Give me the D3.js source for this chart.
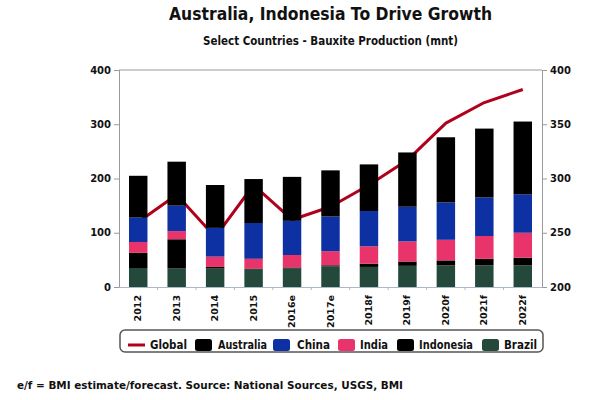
<!DOCTYPE html>
<html><head><meta charset="utf-8">
<script src="https://cdn.jsdelivr.net/npm/d3@7/dist/d3.min.js"></script>
<style>
body{margin:0;background:#fff;}
text{font-family:"DejaVu Sans",sans-serif;font-weight:bold;fill:#111;}
</style></head><body>
<svg id="c" width="600" height="400"></svg>
<script>
const years = ["2012","2013","2014","2015","2016e","2017e","2018f","2019f","2020f","2021f","2022f"];
const brazil    = [35,34,34,32,34,38,37,39,40,40,40];
const indonesia = [28,54,3,2,2,2,6,8,9,12,14];
const india     = [20,15,19,18,23,26,32,37,38,42,46];
const china     = [45,47,53,66,63,64,65,64,69,71,71];
const australia = [77,81,79,81,81,85,86,100,120,127,134];
const globalProd = [260,285,246,294,262,274,294,317,351,370,382];
const leftTicks = [0,100,200,300,400];
const rightTicks = [200,250,300,350,400];

const seriesNames = ["Brazil","Indonesia","India","China","Australia"];
const seriesData = {Brazil:brazil, Indonesia:indonesia, India:india, China:china, Australia:australia};
const colors = {Brazil:"#24493b", Indonesia:"#000000", India:"#e8336b", China:"#0d31a3", Australia:"#000000", Global:"#b0001c"};

const svg = d3.select("#c");
const L=119, R=542, T=70, B=287;

const x = d3.scaleBand().domain(years).range([L,R]).paddingInner(0.52).paddingOuter(0.26);
const y = d3.scaleLinear().domain([0,400]).range([B,T]);
const y2 = d3.scaleLinear().domain([200,400]).range([B,T]);

// title
svg.append("text").attr("x",169).attr("y",20).attr("font-size",17)
  .attr("textLength",323).attr("lengthAdjust","spacingAndGlyphs")
  .text("Australia, Indonesia To Drive Growth");
svg.append("text").attr("x",203).attr("y",45).attr("font-size",11.5)
  .attr("textLength",255).attr("lengthAdjust","spacingAndGlyphs")
  .text("Select Countries - Bauxite Production (mnt)");

// frame top
svg.append("line").attr("x1",L).attr("x2",R).attr("y1",T).attr("y2",T)
  .attr("stroke","#9a9a9a").attr("stroke-width",1);

// global line (behind bars)
const line = d3.line().x((d,i)=>x(years[i])+x.bandwidth()/2).y(d=>y2(d));
svg.append("path").datum(globalProd).attr("d",line)
  .attr("fill","none").attr("stroke",colors.Global).attr("stroke-width",3).attr("stroke-linejoin","round");

// stacked bars
const rows = years.map((yr,i)=>{const o={year:yr}; seriesNames.forEach(s=>o[s]=seriesData[s][i]); return o;});
const stack = d3.stack().keys(seriesNames)(rows);
svg.append("g").selectAll("g").data(stack).join("g")
  .attr("fill",d=>colors[d.key])
  .selectAll("rect").data(d=>d).join("rect")
  .attr("x",d=>x(d.data.year)).attr("width",x.bandwidth())
  .attr("y",d=>y(d[1])).attr("height",d=>y(d[0])-y(d[1]));

// left axis
const ga = svg.append("g").attr("transform",`translate(${L},0)`)
  .call(d3.axisLeft(y).tickValues(leftTicks).tickSize(5).tickPadding(3));
ga.select(".domain").attr("stroke","#9a9a9a");
ga.selectAll(".tick line").attr("stroke","#9a9a9a");
ga.selectAll("text").attr("font-size",10).attr("font-family","DejaVu Sans").attr("font-weight","bold").attr("fill","#111");

// right axis
const gr = svg.append("g").attr("transform",`translate(${R},0)`)
  .call(d3.axisRight(y2).tickValues(rightTicks).tickSize(5).tickPadding(3));
gr.select(".domain").attr("stroke","#9a9a9a");
gr.selectAll(".tick line").attr("stroke","#9a9a9a");
gr.selectAll("text").attr("font-size",10).attr("font-family","DejaVu Sans").attr("font-weight","bold").attr("fill","#111");

// bottom axis
const gb = svg.append("g").attr("transform",`translate(0,${B})`)
  .call(d3.axisBottom(x).tickSize(0).tickPadding(0));
gb.select(".domain").attr("stroke","#a9b8cc").attr("stroke-width",1.2);
gb.selectAll(".tick text").attr("font-size",9.5).attr("font-family","DejaVu Sans").attr("font-weight","bold").attr("fill","#111")
  .attr("text-anchor","end").attr("dy",null)
  .attr("transform","translate(3,8) rotate(-90)").attr("y",0).attr("x",0);
// boundary ticks between categories
const step = x.step();
const bounds = d3.range(years.length+1).map(i=>L+i*step);
gb.selectAll(".btick").data(bounds.slice(1,-1)).join("line").attr("class","btick")
  .attr("x1",d=>d).attr("x2",d=>d).attr("y1",0).attr("y2",3).attr("stroke","#a9b8cc");

// legend
const lg = svg.append("g");
lg.append("rect").attr("x",120).attr("y",330).attr("width",423).attr("height",22).attr("rx",5)
  .attr("fill","#fff").attr("stroke","#555").attr("stroke-width",1.5);
lg.append("line").attr("x1",128).attr("x2",145).attr("y1",345).attr("y2",345)
  .attr("stroke",colors.Global).attr("stroke-width",3);
const legendItems = [
  {name:"Global", sw:null, tx:150, tw:37},
  {name:"Australia", sw:195, tx:218, tw:49},
  {name:"China", sw:273, tx:297, tw:33},
  {name:"India", sw:338, tx:360, tw:28},
  {name:"Indonesia", sw:397, tx:419, tw:54},
  {name:"Brazil", sw:482, tx:504, tw:33}
];
legendItems.forEach(it=>{
  if(it.sw!==null){
    lg.append("rect").attr("x",it.sw).attr("y",339).attr("width",17).attr("height",12).attr("rx",2.5)
      .attr("fill",colors[it.name]);
  }
  lg.append("text").attr("x",it.tx).attr("y",349).attr("font-size",12)
    .attr("textLength",it.tw).attr("lengthAdjust","spacingAndGlyphs").attr("fill","#0a1030").text(it.name);
});

// footer
svg.append("text").attr("x",17).attr("y",389).attr("font-size",11)
  .attr("textLength",386).attr("lengthAdjust","spacingAndGlyphs")
  .text("e/f = BMI estimate/forecast. Source: National Sources, USGS, BMI");
</script></body></html>
